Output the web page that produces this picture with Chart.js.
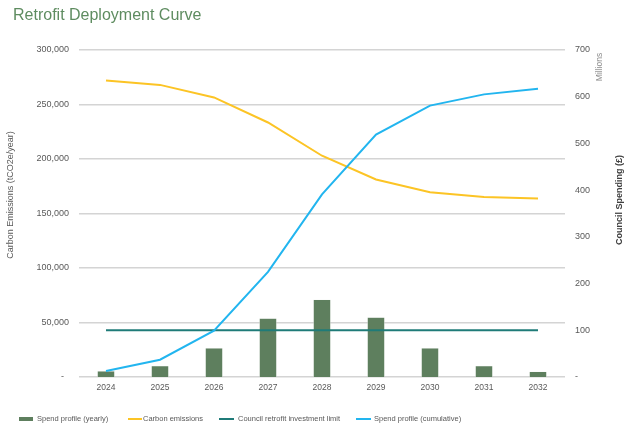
<!DOCTYPE html>
<html>
<head>
<meta charset="utf-8">
<script src="https://cdn.jsdelivr.net/npm/chart.js@4"></script>
<style>
  body { margin: 0; background: #fff; font-family: "Liberation Sans", Arial, sans-serif; }
  #wrap { position: relative; width: 632px; height: 428px; }
  #chartTitle { position: absolute; left: 13px; top: 5px; font-size: 16px; line-height: 20px; color: #5e8c60; }
  .legendItem { position: absolute; top: 413px; height: 12px; font-size: 7.5px; line-height: 12px; color: #595959; white-space: nowrap; }
  .legendItem span.swatch { position: absolute; top: 5px; }
</style>
</head>
<body>
<div id="wrap">
  <canvas id="retrofitChart" width="632" height="428"></canvas>
  <div id="chartTitle">Retrofit Deployment Curve</div>
  <div id="legend"></div>
</div>
<script>
// Chart values
const years = ['2024', '2025', '2026', '2027', '2028', '2029', '2030', '2031', '2032'];
const spendYearly = [13, 24, 62, 126, 166, 128, 62, 24, 12];           // £ millions
const spendCumulative = [13, 37, 99, 225, 391, 519, 581, 605, 617];    // £ millions
const carbonEmissions = [272000, 268000, 256500, 233500, 203000, 181200, 169500, 165200, 163800]; // tCO2e/year
const investmentLimit = [100, 100, 100, 100, 100, 100, 100, 100, 100]; // £ millions

const leftTicks = { min: 0, max: 300000, step: 50000 };
const rightTicks = { min: 0, max: 700, step: 100 };

const tickColor = '#595959';
const fontFamily = '"Liberation Sans", Arial, sans-serif';

// Draw the axis titles (both read bottom-to-top like the original)
const axisTitlePlugin = {
    id: 'axisTitles',
    afterDraw(chart) {
        const ctx = chart.ctx;
        ctx.save();
        ctx.textAlign = 'center';
        ctx.textBaseline = 'middle';

        ctx.font = '9px ' + fontFamily;
        ctx.fillStyle = tickColor;
        drawRotated(ctx, 'Carbon Emissions (tCO2e/year)', 11, 195);

        ctx.font = 'bold 9px ' + fontFamily;
        ctx.fillStyle = '#404040';
        drawRotated(ctx, 'Council Spending (£)', 620, 200);

        ctx.font = '8.5px ' + fontFamily;
        ctx.fillStyle = '#8c8c8c';
        drawRotated(ctx, 'Millions', 600, 67);
        ctx.restore();
    }
};

function drawRotated(ctx, text, x, y) {
    ctx.save();
    ctx.translate(x, y);
    ctx.rotate(-Math.PI / 2);
    ctx.fillText(text, 0, 0);
    ctx.restore();
}

const ctx = document.getElementById('retrofitChart').getContext('2d');
new Chart(ctx, {
    type: 'bar',
    data: {
        labels: years,
        datasets: [
            {
                type: 'line',
                label: 'Carbon emissions',
                data: carbonEmissions,
                borderColor: '#fcc425',
                borderWidth: 2,
                pointRadius: 0,
                tension: 0,
                yAxisID: 'y',
                order: 1
            },
            {
                type: 'line',
                label: 'Council retrofit investment limit',
                data: investmentLimit,
                borderColor: '#1f7b78',
                borderWidth: 2,
                pointRadius: 0,
                yAxisID: 'y1',
                order: 2
            },
            {
                type: 'line',
                label: 'Spend profile (cumulative)',
                data: spendCumulative,
                borderColor: '#22b5ef',
                borderWidth: 2,
                pointRadius: 0,
                tension: 0,
                yAxisID: 'y1',
                order: 0
            },
            {
                type: 'bar',
                label: 'Spend profile (yearly)',
                data: spendYearly,
                backgroundColor: '#5e7f5e',
                borderColor: '#eef2ee',
                borderWidth: 0.5,
                categoryPercentage: 1,
                barPercentage: 0.325,
                yAxisID: 'y1',
                order: 3
            }
        ]
    },
    options: {
        responsive: false,
        animation: false,
        layout: { padding: { top: 50, bottom: 31, left: 0, right: 0 } },
        plugins: {
            legend: { display: false },
            title: { display: false },
            tooltip: { enabled: false }
        },
        scales: {
            x: {
                grid: { display: false, drawTicks: false },
                border: { display: false },
                ticks: { color: tickColor, font: { family: fontFamily, size: 8.5 }, padding: 6, maxRotation: 0 },
                afterFit(scale) { scale.height = 20; }
            },
            y: {
                position: 'left',
                min: leftTicks.min,
                max: leftTicks.max,
                grid: { color: '#d4d4d4', lineWidth: 1.5, drawTicks: false },
                border: { display: false },
                ticks: {
                    stepSize: leftTicks.step,
                    color: tickColor,
                    font: { family: fontFamily, size: 9 },
                    padding: 10,
                    callback: v => v === 0 ? '-  ' : v.toLocaleString('en-GB')
                },
                afterFit(scale) { scale.width = 79; }
            },
            y1: {
                position: 'right',
                min: rightTicks.min,
                max: rightTicks.max,
                grid: { display: false, drawTicks: false },
                border: { display: false },
                ticks: {
                    stepSize: rightTicks.step,
                    color: tickColor,
                    font: { family: fontFamily, size: 9 },
                    padding: 10,
                    callback: v => v === 0 ? '-' : v
                },
                afterFit(scale) { scale.width = 67; }
            }
        }
    },
    plugins: [axisTitlePlugin]
});

// Legend below the chart, laid out like the original
const legendItems = [
    { text: 'Spend profile (yearly)', color: '#5e7f5e', left: 19, swatchW: 14, swatchH: 4, textX: 18 },
    { text: 'Carbon emissions', color: '#fcc425', left: 128, swatchW: 14, swatchH: 2, textX: 15 },
    { text: 'Council retrofit investment limit', color: '#1f7b78', left: 219, swatchW: 15, swatchH: 2, textX: 19 },
    { text: 'Spend profile (cumulative)', color: '#22b5ef', left: 356, swatchW: 15, swatchH: 2, textX: 18 }
];
const legendEl = document.getElementById('legend');
legendItems.forEach(item => {
    const div = document.createElement('div');
    div.className = 'legendItem';
    div.style.left = item.left + 'px';
    div.style.paddingLeft = item.textX + 'px';
    const sw = document.createElement('span');
    sw.className = 'swatch';
    sw.style.left = '0px';
    sw.style.width = item.swatchW + 'px';
    sw.style.height = item.swatchH + 'px';
    sw.style.top = (6 - item.swatchH / 2) + 'px';
    sw.style.background = item.color;
    div.appendChild(sw);
    div.appendChild(document.createTextNode(item.text));
    legendEl.appendChild(div);
});
</script>
</body>
</html>
